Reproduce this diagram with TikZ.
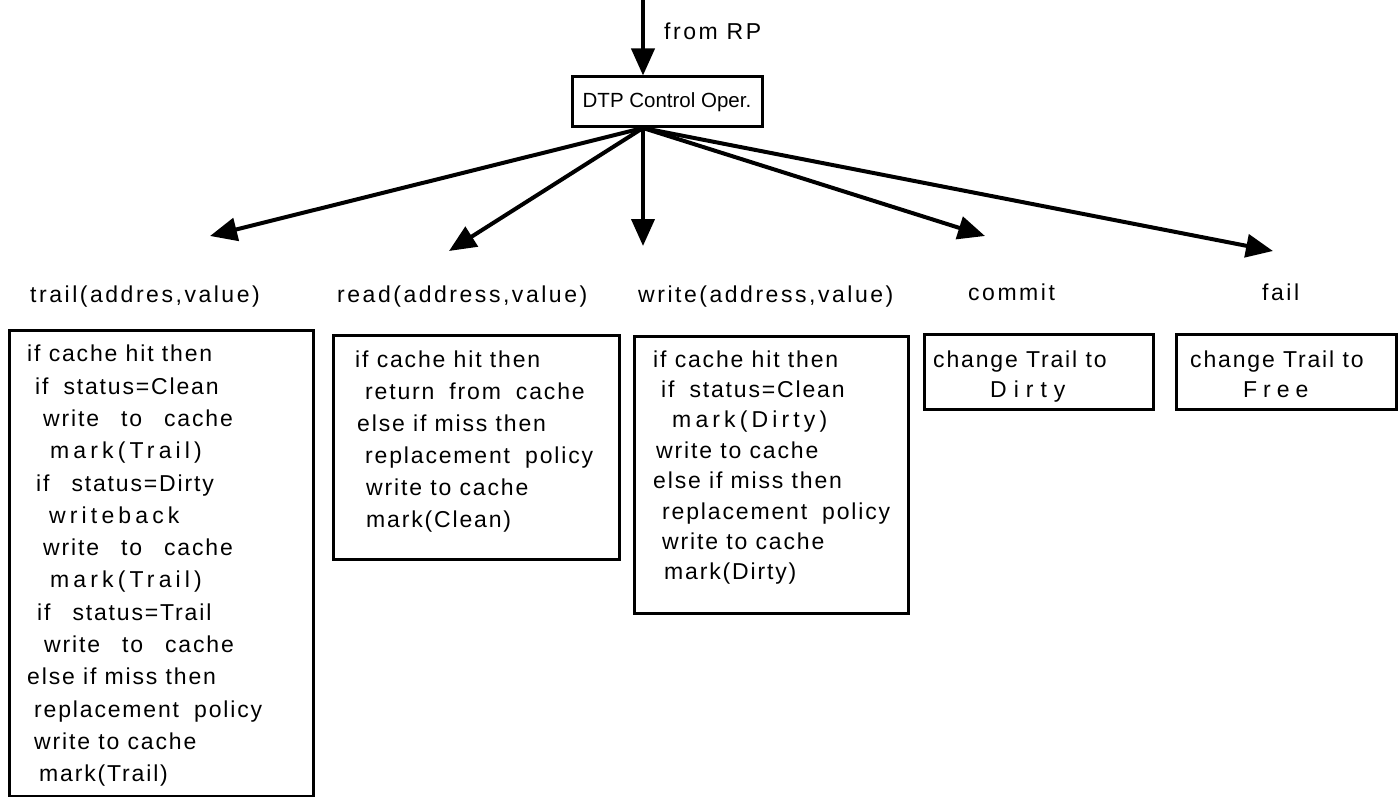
\documentclass[tikz,border=0pt]{standalone}
\usepackage{fontspec}
\setmainfont{Liberation Sans}
\newfontfamily\trk[LetterSpace=11]{Liberation Sans}
\newfontfamily\btrk[LetterSpace=8]{Liberation Sans}
\newfontfamily\wtrk[LetterSpace=18]{Liberation Sans}
\newcommand\wgap{\hspace*{22pt}}
\newcommand\mgap{\hspace*{15pt}}
\usetikzlibrary{arrows.meta}
\begin{document}
\begin{tikzpicture}[x=1pt,y=-1pt,
  box/.style={draw, line width=3pt, inner sep=0pt},
  arr/.style={line width=4pt, -{Triangle[length=27pt,width=23pt]}},
  lbl/.style={font=\trk\fontsize{23}{27}\selectfont, anchor=base west, inner sep=0pt},
  txt/.style={font=\btrk\fontsize{23}{32}\selectfont, align=left, anchor=north west, inner sep=0pt}]
\useasboundingbox (0,0) rectangle (1398,797);

% top
\coordinate (rp) at (643,0);
\node[box, minimum width=190pt, minimum height=50pt, font=\fontsize{20.5}{24}\selectfont] (dtp) at (667,102) {DTP Control Oper.};
\node[lbl] (from) at (664,40) {from RP};
\draw[arr] (rp) -- (rp |- dtp.north);

% fan
\coordinate (fan) at (643,128);
\coordinate (tA) at (210,236);
\coordinate (tB) at (449,251);
\coordinate (tC) at (643,246);
\coordinate (tD) at (985,236);
\coordinate (tE) at (1273,251);
\foreach \t in {tA,tB,tC,tD,tE} \draw[arr] (fan) -- (\t);

% labels
\node[lbl] (ltrail) at (30,302) {trail(addres,value)};
\node[lbl] (lread) at (337,302) {read(address,value)};
\node[lbl] (lwrite) at (638,302) {write(address,value)};
\node[lbl] (lcommit) at (968,300) {commit};
\node[lbl] (lfail) at (1262,300) {fail};

% boxes
\node[box, anchor=north west, minimum width=304pt, minimum height=466pt] (btrail) at (8,329) {};
\node[box, anchor=north west, minimum width=286pt, minimum height=224pt] (bread) at (332,334) {};
\node[box, anchor=north west, minimum width=274pt, minimum height=277pt] (bwrite) at (633,335) {};
\node[box, anchor=north west, minimum width=229pt, minimum height=75pt] (bcommit) at (923,333) {};
\node[box, anchor=north west, minimum width=220pt, minimum height=75pt] (bfail) at (1175,333) {};

% texts
\node[txt, font=\btrk\fontsize{23}{32.3}\selectfont] (ttrail) at (27,345) {%
if cache hit then\\
\hspace*{8pt}if\mgap status=Clean\\
\hspace*{16pt}write\wgap to\wgap cache\\
\hspace*{23pt}{\wtrk mark(Trail)}\\
\hspace*{9pt}if\wgap status=Dirty\\
\hspace*{22pt}{\wtrk writeback}\\
\hspace*{16pt}write\wgap to\wgap cache\\
\hspace*{23pt}{\wtrk mark(Trail)}\\
\hspace*{10pt}if\wgap status=Trail\\
\hspace*{17pt}write\wgap to\wgap cache\\
else if miss then\\
\hspace*{7pt}replacement\mgap policy\\
\hspace*{7pt}write to cache\\
\hspace*{12pt}mark(Trail)};

\node[txt] (tread) at (355,350.3) {%
if cache hit then\\
\hspace*{10pt}return\mgap from\mgap cache\\
\hspace*{2pt}else if miss then\\
\hspace*{10pt}replacement\mgap policy\\
\hspace*{11pt}write to cache\\
\hspace*{11pt}mark(Clean)};

\node[txt, font=\btrk\fontsize{23}{30.4}\selectfont] (twrite) at (653,350.3) {%
if cache hit then\\
\hspace*{8pt}if\mgap status=Clean\\
\hspace*{19pt}{\wtrk mark(Dirty)}\\
\hspace*{3pt}write to cache\\
else if miss then\\
\hspace*{9pt}replacement\mgap policy\\
\hspace*{9pt}write to cache\\
\hspace*{11pt}mark(Dirty)};

\node[txt, font=\btrk\fontsize{23}{30}\selectfont] (tcommit) at (933,350.3) {%
change Trail to\\
\hspace*{57pt}D\kern7pt i\kern7pt r\kern7pt t\kern7pt y};

\node[txt, font=\btrk\fontsize{23}{30}\selectfont] (tfail) at (1190,350.3) {%
change Trail to\\
\hspace*{53pt}F\kern6pt r\kern6pt e\kern6pt e};
\end{tikzpicture}
\end{document}
